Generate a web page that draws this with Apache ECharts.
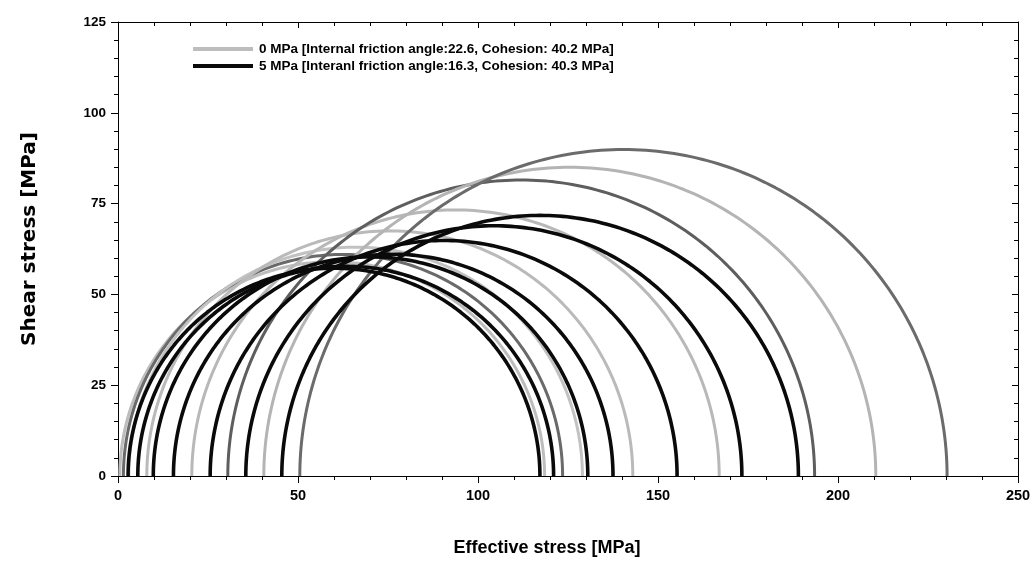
<!DOCTYPE html>
<html>
<head>
<meta charset="utf-8">
<script src="https://cdn.jsdelivr.net/npm/echarts@6/dist/echarts.min.js"></script>
<style>
html,body{margin:0;padding:0;background:#fff;}
#chart{width:1035px;height:562px;}
</style>
</head>
<body>
<div id="chart"></div>
<script>
// ---- Data ----
const seriesNames = [
  '0 MPa [Internal friction angle:22.6, Cohesion: 40.2 MPa]',
  '5 MPa [Interanl friction angle:16.3, Cohesion: 40.3 MPa]'
];
// Mohr circles: minor (sigma3) and major (sigma1) effective principal stresses, MPa
const sigma3_0MPa = [0.5, 1.5, 3.0, 8.0, 20.5, 30.5, 40.5, 50.5];
const sigma1_0MPa = [118.5, 123.5, 129.0, 143.0, 167.0, 193.5, 210.5, 230.3];
const sigma3_5MPa = [2.8, 5.5, 9.8, 15.4, 25.6, 35.5, 45.5];
const sigma1_5MPa = [117.2, 121.0, 130.5, 137.5, 155.3, 173.3, 189.0];
const xTicks = [0, 50, 100, 150, 200, 250];
const yTicks = [0, 25, 50, 75, 100, 125];

// ---- Styles ----
const shade0 = ['#bdbdbd', '#6a6a6a', '#c2c2c2', '#bababa', '#b8b8b8', '#5e5e5e', '#b4b4b4', '#6b6b6b'];
const shade5 = '#0a0a0a';

function circlePoints(s3, s1) {
  const c = (s1 + s3) / 2, r = (s1 - s3) / 2;
  const pts = [];
  for (let d = 0; d <= 180; d += 1) {
    const t = d * Math.PI / 180;
    pts.push([c - r * Math.cos(t), r * Math.sin(t)]);
  }
  return pts;
}

const series = [];
sigma3_0MPa.forEach((s3, i) => {
  series.push({
    name: seriesNames[0], type: 'line', showSymbol: false, symbol: 'none',
    xAxisIndex: 0, yAxisIndex: 0, silent: true,
    data: circlePoints(s3, sigma1_0MPa[i]),
    lineStyle: {color: shade0[i], width: 3},
    itemStyle: {color: shade0[0]},
    z: 2
  });
});
sigma3_5MPa.forEach((s3, i) => {
  series.push({
    name: seriesNames[1], type: 'line', showSymbol: false, symbol: 'none',
    xAxisIndex: 0, yAxisIndex: 0, silent: true,
    data: circlePoints(s3, sigma1_5MPa[i]),
    lineStyle: {color: shade5, width: 3.6},
    itemStyle: {color: shade5},
    z: 3
  });
});

const FONT = '"Liberation Sans", Arial, sans-serif';
const axisLine = {show: true, onZero: false, lineStyle: {color: '#000', width: 1}};

const chart = echarts.init(document.getElementById('chart'), null, {renderer: 'canvas'});
chart.setOption({
  animation: false,
  backgroundColor: '#fff',
  grid: {left: 118, right: 17, top: 22, bottom: 80, containLabel: false},
  legend: {
    left: 188, top: 37, orient: 'vertical', itemGap: 3,
    itemWidth: 60, itemHeight: 4, icon: 'rect',
    data: seriesNames,
    textStyle: {fontFamily: FONT, fontWeight: 'bold', fontSize: 13.5, color: '#000', padding: [0, 0, 0, 1]}
  },
  xAxis: [{
    type: 'value', min: xTicks[0], max: xTicks[xTicks.length - 1], interval: 50, position: 'bottom',
    name: 'Effective stress [MPa]', nameLocation: 'middle', nameGap: 63,
    nameTextStyle: {fontFamily: FONT, fontWeight: 'bold', fontSize: 18, color: '#000', padding: [0, 42, 0, 0]},
    axisLine: axisLine,
    axisTick: {show: true, inside: false, length: 7, lineStyle: {color: '#000'}},
    minorTick: {show: true, splitNumber: 5, length: 4, lineStyle: {color: '#000'}},
    axisLabel: {fontFamily: FONT, fontWeight: 'bold', fontSize: 14.5, color: '#000', margin: 12},
    splitLine: {show: false}
  }, {
    type: 'value', min: xTicks[0], max: xTicks[xTicks.length - 1], interval: 50, position: 'top',
    axisLine: axisLine,
    axisTick: {show: true, inside: true, length: 6, lineStyle: {color: '#000'}},
    minorTick: {show: true, splitNumber: 5, length: 4, lineStyle: {color: '#000'}},
    axisLabel: {show: false}, splitLine: {show: false}
  }],
  yAxis: [{
    type: 'value', min: yTicks[0], max: yTicks[yTicks.length - 1], interval: 25, position: 'left',
    name: 'Shear stress [MPa]', nameLocation: 'middle', nameGap: 78, nameRotate: 90,
    nameTextStyle: {fontFamily: '"DejaVu Sans", sans-serif', fontWeight: 'bold', fontSize: 20, color: '#000', padding: [0, 0, 0, 20]},
    axisLine: axisLine,
    axisTick: {show: true, inside: false, length: 7, lineStyle: {color: '#000'}},
    minorTick: {show: true, splitNumber: 5, length: 4, lineStyle: {color: '#000'}},
    axisLabel: {fontFamily: FONT, fontWeight: 'bold', fontSize: 13.5, color: '#000', margin: 12},
    splitLine: {show: false}
  }, {
    type: 'value', min: yTicks[0], max: yTicks[yTicks.length - 1], interval: 25, position: 'right',
    axisLine: axisLine,
    axisTick: {show: true, inside: true, length: 6, lineStyle: {color: '#000'}},
    minorTick: {show: true, splitNumber: 5, length: 4, lineStyle: {color: '#000'}},
    axisLabel: {show: false}, splitLine: {show: false}
  }],
  series: series
});
</script>
</body>
</html>
